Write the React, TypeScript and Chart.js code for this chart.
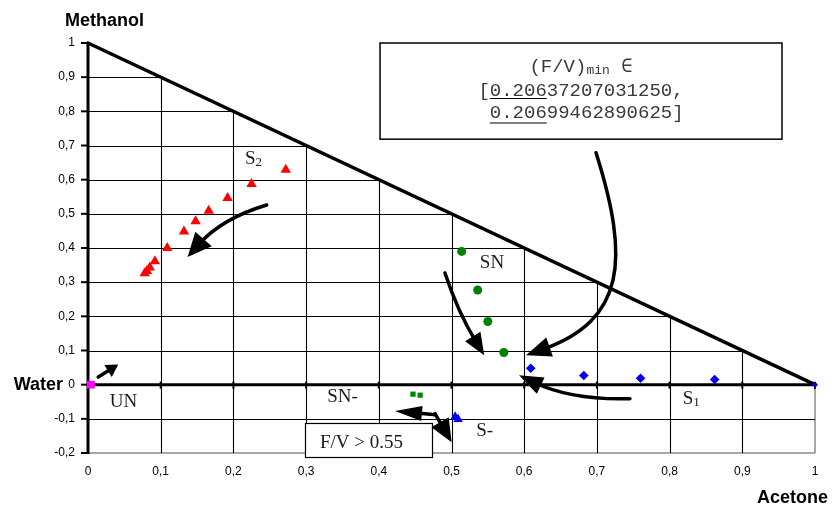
import React, { useEffect, useRef } from 'react';
import { Chart, registerables } from 'chart.js';

Chart.register(...registerables);

// ---- data: x = Acetone, y = Methanol (Water = 1 - x - y) ----
const s2Acetone = [0.272, 0.225, 0.192, 0.166, 0.148, 0.132, 0.109, 0.092, 0.085, 0.081, 0.078];
const s2Methanol = [0.629, 0.587, 0.546, 0.509, 0.478, 0.448, 0.4, 0.361, 0.343, 0.333, 0.326];

const snAcetone = [0.514, 0.536, 0.55, 0.572];
const snMethanol = [0.39, 0.277, 0.185, 0.094];

const s1Acetone = [0.609, 0.682, 0.76, 0.862, 1.0];
const s1Methanol = [0.048, 0.027, 0.019, 0.015, 0.0];

const snMinusAcetone = [0.447, 0.457];
const snMinusMethanol = [-0.028, -0.031];

const sMinusAcetone = [0.505, 0.509];
const sMinusMethanol = [-0.094, -0.101];

const unAcetone = [0.004];
const unMethanol = [0.0];

const gridLevels = [0.1, 0.2, 0.3, 0.4, 0.5, 0.6, 0.7, 0.8, 0.9];
const xMin = 0, xMax = 1, yMin = -0.2, yMax = 1;

// region labels (data coordinates: left, baseline)
const regionLabels: { text: string; sub?: string; x: number; y: number }[] = [
  { text: 'S', sub: '2', x: 0.216, y: 0.645 },
  { text: 'SN', x: 0.539, y: 0.341 },
  { text: 'SN-', x: 0.329, y: -0.052 },
  { text: 'UN', x: 0.03, y: -0.064 },
  { text: 'S', sub: '1', x: 0.818, y: -0.058 },
  { text: 'S-', x: 0.534, y: -0.149 },
];

// arrows in data coordinates: [start, (controls...), tip]
const arrows: { pts: [number, number][]; L: number; W: number }[] = [
  { pts: [[0.2457, 0.526], [0.1843, 0.487], [0.137, 0.374]], L: 24, W: 11 },
  { pts: [[0.0141, 0.0223], [0.0416, 0.0587]], L: 12, W: 7 },
  { pts: [[0.491, 0.327], [0.5089, 0.212], [0.545, 0.086]], L: 22, W: 9 },
  { pts: [[0.6988, 0.679], [0.7455, 0.3645], [0.7387, 0.1886], [0.6025, 0.0859]], L: 25, W: 10 },
  { pts: [[0.7455, -0.041], [0.6657, -0.0461], [0.5929, 0.0273]], L: 24, W: 9 },
  { pts: [[0.478, -0.088], [0.4223, -0.0774]], L: 27, W: 7.5 },
  { pts: [[0.4773, -0.085], [0.5002, -0.1683]], L: 23, W: 10 },
];

const fmt = (v: number) => String(Math.round(v * 10) / 10).replace('.', ',');

const toPts = (xs: number[], ys: number[]) => xs.map((x, i) => ({ x, y: ys[i] }));

const ternaryPlugin = {
  id: 'ternary',
  beforeDatasetsDraw(chart: any) {
    const { ctx, scales } = chart;
    const X = (v: number) => scales.x.getPixelForValue(v);
    const Y = (v: number) => scales.y.getPixelForValue(v);
    const s = (p: number) => Math.round(p) + 0.5;
    const line = (x1: number, y1: number, x2: number, y2: number) => {
      ctx.beginPath();
      ctx.moveTo(x1, y1);
      ctx.lineTo(x2, y2);
      ctx.stroke();
    };
    ctx.save();
    // outer grey border (below zero)
    ctx.strokeStyle = '#8a8a8a';
    ctx.lineWidth = 1.5;
    line(X(0), Y(yMin), X(1), Y(yMin));
    line(X(1), Y(0), X(1), Y(yMin));
    // grid
    ctx.strokeStyle = '#000';
    ctx.lineWidth = 1.1;
    for (const g of gridLevels) {
      line(X(0), s(Y(g)), X(1 - g), s(Y(g)));
      line(s(X(g)), Y(yMin), s(X(g)), Y(1 - g));
    }
    line(X(0), s(Y(-0.1)), X(1), s(Y(-0.1)));
    // thick axes
    ctx.lineWidth = 3;
    line(X(0), Y(yMax) - 1, X(0), Y(yMin) + 1);
    line(X(0), Y(0), X(1), Y(0));
    // y tick marks
    ctx.lineWidth = 2;
    for (let v = -2; v <= 10; v++) {
      const yy = Y(v / 10);
      line(X(0) - 7, yy, X(0), yy);
    }
    // x tick marks on zero line
    for (let v = 1; v <= 10; v++) {
      const xx = X(v / 10);
      line(xx, Y(0) - 3, xx, Y(0) + 4);
    }
    // hypotenuse
    ctx.lineWidth = 3.5;
    ctx.lineCap = 'round';
    line(X(0), Y(1), X(1), Y(0));
    ctx.restore();
  },
  afterDatasetsDraw(chart: any) {
    const { ctx, scales, chartArea } = chart;
    const X = (v: number) => scales.x.getPixelForValue(v);
    const Y = (v: number) => scales.y.getPixelForValue(v);
    ctx.save();
    // axis names
    ctx.fillStyle = '#000';
    ctx.font = 'bold 18px "Liberation Sans", Arial, sans-serif';
    ctx.textBaseline = 'alphabetic';
    ctx.textAlign = 'left';
    ctx.fillText('Methanol', chartArea.left - 23, Y(1) - 17);
    ctx.textAlign = 'right';
    ctx.fillText('Water', chartArea.left - 25, Y(0) + 5.5);
    ctx.fillText('Acetone', chartArea.right + 13, chart.height - 3);

    // region labels
    ctx.textAlign = 'left';
    ctx.fillStyle = '#1a1a1a';
    for (const lb of regionLabels) {
      ctx.font = '19px "Liberation Serif", "Times New Roman", serif';
      const px = X(lb.x), py = Y(lb.y);
      ctx.fillText(lb.text, px, py);
      if (lb.sub) {
        const w = ctx.measureText(lb.text).width;
        ctx.font = '13px "Liberation Serif", "Times New Roman", serif';
        ctx.fillText(lb.sub, px + w, py + 1.5);
      }
    }

    // F/V > 0.55 box
    {
      const x1 = X(0.2985), x2 = X(0.4732), y1 = Y(-0.1133), y2 = Y(-0.2132);
      ctx.fillStyle = '#fff';
      ctx.fillRect(x1, y1, x2 - x1, y2 - y1);
      ctx.strokeStyle = '#000';
      ctx.lineWidth = 1.2;
      ctx.strokeRect(Math.round(x1) + 0.5, Math.round(y1) + 0.5, Math.round(x2 - x1), Math.round(y2 - y1));
      ctx.fillStyle = '#1a1a1a';
      ctx.font = '19px "Liberation Serif", "Times New Roman", serif';
      ctx.fillText('F/V > 0.55', x1 + 15, y1 + 25);
    }

    // (F/V)min box
    {
      const x1 = X(0.4017), x2 = X(0.9546), y1 = Y(1.0), y2 = Y(0.7185);
      ctx.fillStyle = '#fff';
      ctx.fillRect(x1, y1, x2 - x1, y2 - y1);
      ctx.strokeStyle = '#000';
      ctx.lineWidth = 1.5;
      ctx.strokeRect(x1, y1, x2 - x1, y2 - y1);
      const cx = (x1 + x2) / 2;
      const mono = '"Liberation Mono", "Courier New", monospace';
      ctx.fillStyle = '#3a3a3a';
      // line 1
      ctx.font = '19px ' + mono;
      const a = '(F/V)';
      const wa = ctx.measureText(a).width;
      ctx.font = '13px ' + mono;
      const wm = ctx.measureText('min').width;
      ctx.font = '19px ' + mono;
      const wc = ctx.measureText(' \u2208').width;
      const sx = cx - (wa + wm + wc) / 2;
      ctx.textAlign = 'left';
      ctx.fillText(a, sx, y1 + 29);
      ctx.font = '13px ' + mono;
      ctx.fillText('min', sx + wa, y1 + 31);
      ctx.font = '19px ' + mono;
      ctx.fillText(' \u2208', sx + wa + wm, y1 + 29);
      // line 2 / 3
      const l2 = '[0.20637207031250,';
      const l3 = ' 0.20699462890625]';
      const w2 = ctx.measureText(l2).width;
      const lx = cx - w2 / 2;
      ctx.fillText(l2, lx, y1 + 53);
      ctx.fillText(l3, lx, y1 + 75);
      const cw = ctx.measureText('0').width;
      ctx.strokeStyle = '#000';
      ctx.lineWidth = 1.2;
      ctx.beginPath();
      ctx.moveTo(lx + cw, y1 + 55.5);
      ctx.lineTo(lx + cw * 6, y1 + 55.5);
      ctx.moveTo(lx + cw, y1 + 80);
      ctx.lineTo(lx + cw * 6, y1 + 80);
      ctx.stroke();
    }

    // arrows
    ctx.strokeStyle = '#000';
    ctx.fillStyle = '#000';
    ctx.lineWidth = 3.5;
    ctx.lineCap = 'round';
    for (const ar of arrows) {
      const P = ar.pts.map(([a, b]) => ({ x: X(a), y: Y(b) }));
      const n = P.length;
      const tip = P[n - 1];
      const prev = P[n - 2];
      let dx = tip.x - prev.x, dy = tip.y - prev.y;
      const d = Math.hypot(dx, dy);
      dx /= d; dy /= d;
      const end = { x: tip.x - dx * ar.L * 0.7, y: tip.y - dy * ar.L * 0.7 };
      ctx.beginPath();
      ctx.moveTo(P[0].x, P[0].y);
      if (n === 2) ctx.lineTo(end.x, end.y);
      else if (n === 3) ctx.quadraticCurveTo(P[1].x, P[1].y, end.x, end.y);
      else ctx.bezierCurveTo(P[1].x, P[1].y, P[2].x, P[2].y, end.x, end.y);
      ctx.stroke();
      const bx = tip.x - dx * ar.L, by = tip.y - dy * ar.L;
      ctx.beginPath();
      ctx.moveTo(tip.x, tip.y);
      ctx.lineTo(bx - dy * ar.W, by + dx * ar.W);
      ctx.lineTo(bx + dy * ar.W, by - dx * ar.W);
      ctx.closePath();
      ctx.fill();
    }
    ctx.restore();
  },
};

export default function App() {
  const ref = useRef<HTMLCanvasElement | null>(null);
  useEffect(() => {
    if (!ref.current) return;
    Chart.defaults.font.family = '"Liberation Sans", Arial, sans-serif';
    const chart = new Chart(ref.current, {
      type: 'scatter',
      data: {
        datasets: [
          {
            label: 'S2',
            data: toPts(s2Acetone, s2Methanol),
            pointStyle: 'triangle',
            pointRadius: 6,
            backgroundColor: '#ff0000',
            borderColor: '#ff0000',
            borderWidth: 0,
          },
          {
            label: 'SN',
            data: toPts(snAcetone, snMethanol),
            pointStyle: 'circle',
            pointRadius: 4.5,
            backgroundColor: '#008000',
            borderColor: '#008000',
            borderWidth: 0,
          },
          {
            label: 'S1',
            data: toPts(s1Acetone, s1Methanol),
            pointStyle: 'rectRot',
            pointRadius: [4.8, 4.8, 4.8, 4.8, 3],
            backgroundColor: '#0000ee',
            borderColor: '#0000ee',
            borderWidth: 0,
          },
          {
            label: 'SN-',
            data: toPts(snMinusAcetone, snMinusMethanol),
            pointStyle: 'rect',
            pointRadius: 3.5,
            backgroundColor: '#008000',
            borderColor: '#33aa33',
            borderWidth: 0.5,
          },
          {
            label: 'S-',
            data: toPts(sMinusAcetone, sMinusMethanol),
            pointStyle: 'triangle',
            pointRadius: 5.5,
            backgroundColor: '#0000ff',
            borderColor: '#0000ff',
            borderWidth: 0,
          },
          {
            label: 'UN',
            data: toPts(unAcetone, unMethanol),
            pointStyle: 'rect',
            pointRadius: 5.5,
            backgroundColor: '#ff00ff',
            borderColor: '#ff00ff',
            borderWidth: 0,
          },
        ],
      },
      options: {
        animation: false,
        responsive: false,
        clip: false as any,
        layout: { padding: { top: 43, right: 17, left: 0, bottom: 0 } },
        plugins: { legend: { display: false }, tooltip: { enabled: false } },
        scales: {
          x: {
            type: 'linear',
            min: xMin,
            max: xMax,
            grid: { display: false, drawTicks: false, tickLength: 0 },
            border: { display: false },
            ticks: {
              stepSize: 0.1,
              padding: 11,
              autoSkip: false,
              maxRotation: 0,
              color: '#000',
              font: { size: 12, family: '"Liberation Sans", Arial, sans-serif' },
              callback: (v: any) => fmt(Number(v)),
            },
            afterFit: (sc: any) => { sc.height = 53; },
          },
          y: {
            type: 'linear',
            min: yMin,
            max: yMax,
            grid: { display: false, drawTicks: false, tickLength: 0 },
            border: { display: false },
            ticks: {
              stepSize: 0.1,
              padding: 13,
              autoSkip: false,
              color: '#000',
              font: { size: 12, family: '"Liberation Sans", Arial, sans-serif' },
              callback: (v: any) => fmt(Number(v)),
            },
            afterFit: (sc: any) => { sc.width = 88; },
          },
        },
      },
      plugins: [ternaryPlugin],
    });
    return () => chart.destroy();
  }, []);
  return (
    <div style={{ position: 'absolute', left: 0, top: 0, width: 832, height: 506, background: '#fff' }}>
      <canvas ref={ref} width={832} height={506} style={{ width: 832, height: 506, display: 'block' }} />
    </div>
  );
}
